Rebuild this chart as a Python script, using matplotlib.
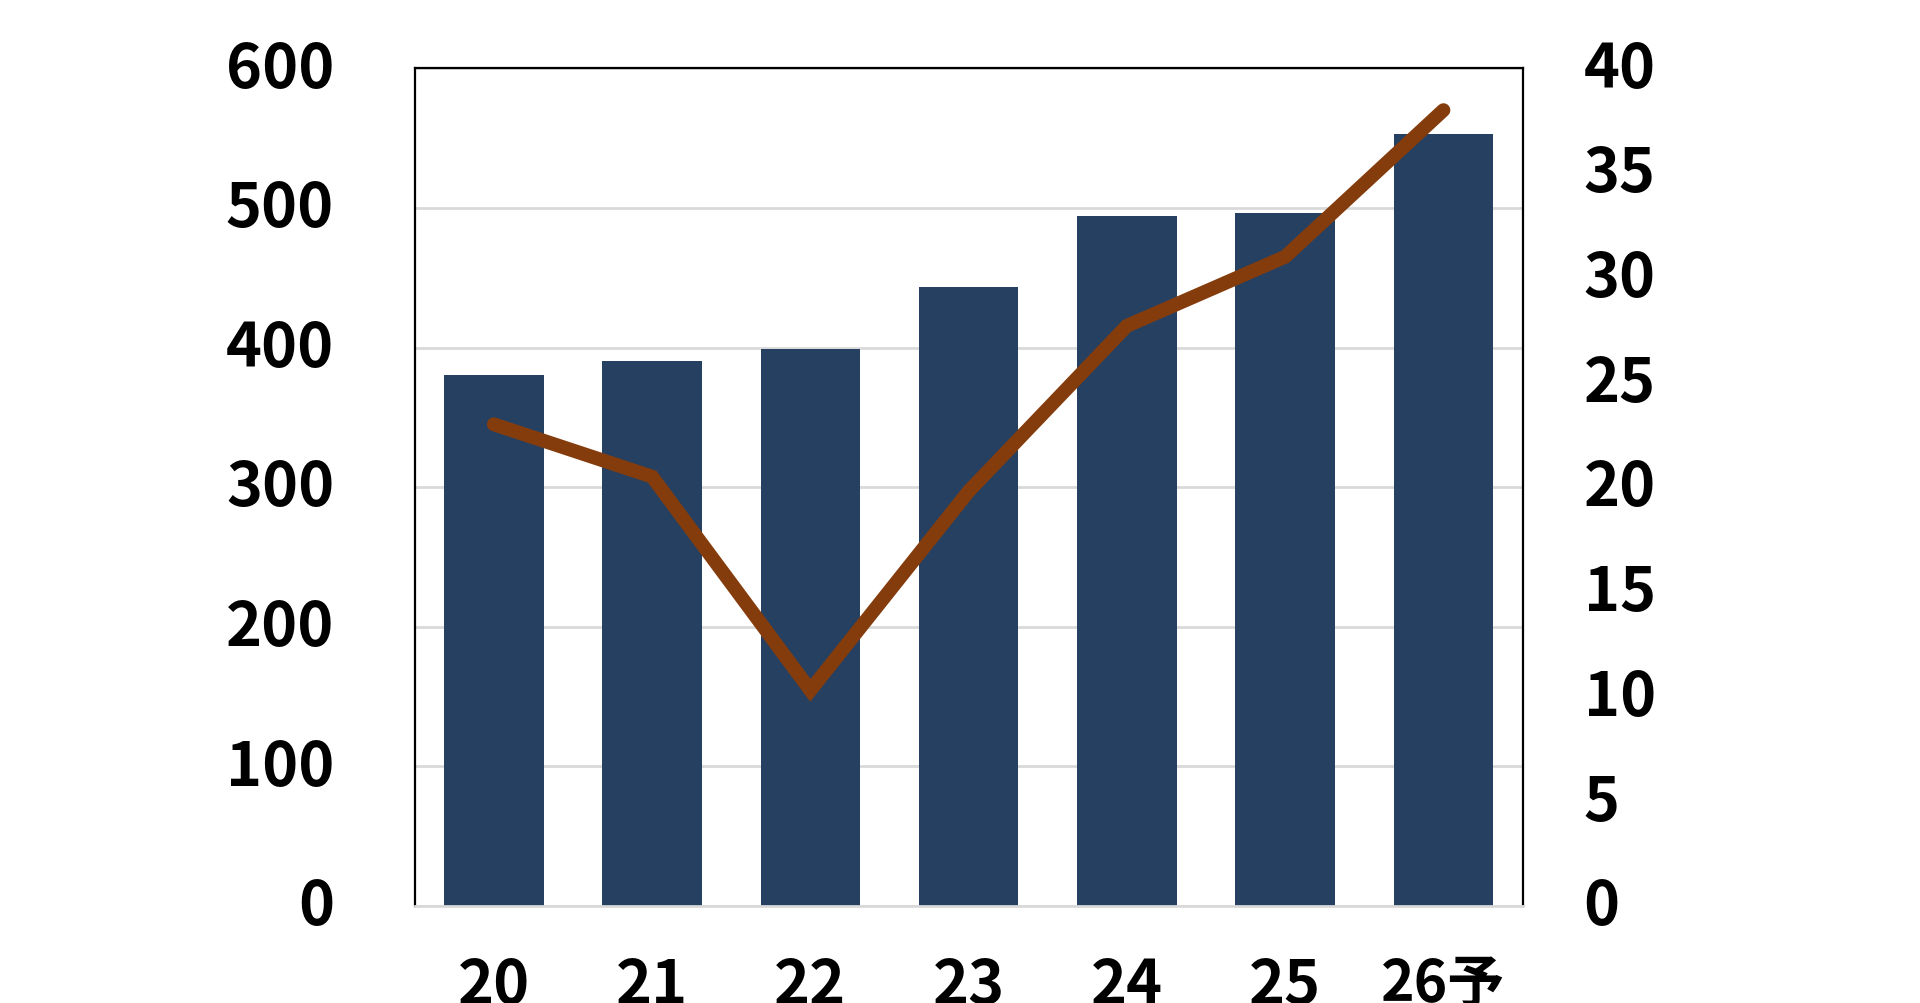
import numpy as np
import matplotlib
matplotlib.use("Agg")
import matplotlib.pyplot as plt
from matplotlib.transforms import ScaledTranslation

plt.rcParams['font.family'] = ['Noto Sans CJK JP', 'DejaVu Sans']

years = ["20", "21", "22", "23", "24", "25", "26予"]
sales = [380, 390, 399, 443, 494, 496, 553]
rate = [23.0, 20.5, 10.3, 19.8, 27.7, 31.0, 38.0]

bar_color = "#264061"
line_color = "#843c0c"
grid_color = "#d9d9d9"

fig = plt.figure(figsize=(19.2, 10.04), dpi=100)
ax = fig.add_axes([0.216, 0.0966, 0.577, 0.8344])
x = np.arange(len(years))

ax.bar(x, sales, width=0.63, color=bar_color, zorder=2)
ax.set_xlim(-0.5, len(years) - 0.5)
ax.set_ylim(0, 600)
ax.set_yticks(range(0, 601, 100))
ax.yaxis.grid(True, color=grid_color, linewidth=2, zorder=0)
ax.set_axisbelow(True)

ax.set_xticks(x)
ax.set_xticklabels(years)
ax.tick_params(axis='both', length=0, labelsize=44)
ax.tick_params(axis='y', pad=58)
ax.tick_params(axis='x', pad=35)
for lab in ax.get_xticklabels():
    lab.set_fontweight('bold')
    if lab.get_text().endswith("予"):
        lab.set_fontsize(41)

# labels in the reference sit a little above their ticks
shift = ScaledTranslation(0, 0.06, fig.dpi_scale_trans)
for lab in ax.get_yticklabels():
    lab.set_fontweight('bold')
    lab.set_transform(lab.get_transform() + shift)

for side in ['left', 'top', 'right']:
    ax.spines[side].set_color('black')
    ax.spines[side].set_linewidth(1.6)
ax.spines['bottom'].set_color(grid_color)
ax.spines['bottom'].set_linewidth(2)

ax2 = ax.twinx()
ax2.plot(x, rate, color=line_color, linewidth=10, solid_capstyle='round',
         solid_joinstyle='miter', zorder=3)
ax2.set_ylim(0, 40)
ax2.set_yticks(range(0, 41, 5))
ax2.tick_params(axis='y', length=0, labelsize=44, pad=44)
for lab in ax2.get_yticklabels():
    lab.set_fontweight('bold')
    lab.set_transform(lab.get_transform() + shift)
for side in ['left', 'top', 'right', 'bottom']:
    ax2.spines[side].set_visible(False)

fig.savefig("out.png", dpi=100)
